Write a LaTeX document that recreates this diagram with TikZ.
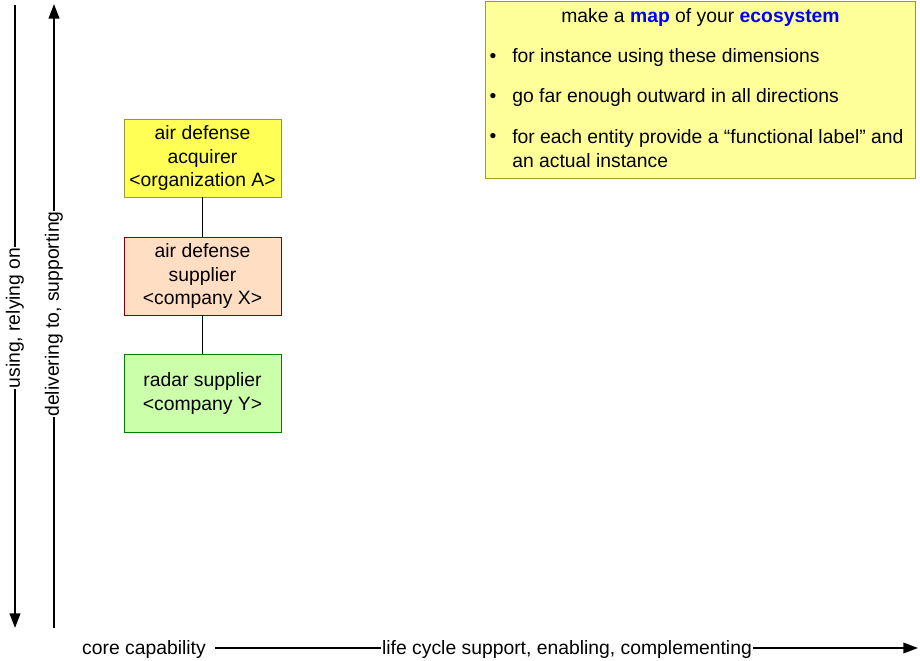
\documentclass[tikz,border=0pt]{standalone}
\usepackage{fontspec}
\setmainfont{Liberation Sans}
\usetikzlibrary{arrows.meta}

\definecolor{acqfill}{HTML}{FFFF55}
\definecolor{acqline}{HTML}{999933}
\definecolor{supfill}{HTML}{FFDEC4}
\definecolor{supline}{HTML}{800000}
\definecolor{radfill}{HTML}{CCFFAA}
\definecolor{radline}{HTML}{008000}
\definecolor{notefill}{HTML}{FFFF99}
\definecolor{noteline}{HTML}{A09A20}
\definecolor{mapblue}{HTML}{0000FF}

\begin{document}
\begin{tikzpicture}[x=0.75pt, y=-0.75pt, font=\fontsize{14.5}{17.3}\selectfont,
    entity/.style={draw, minimum width=118pt, minimum height=58.5pt, align=center, inner sep=2pt},
    axis/.style={line width=1.3pt, -{Triangle[length=11pt, width=8pt]}},
    axislabel/.style={fill=white, inner sep=0.5pt}]
    \useasboundingbox (0,0) rectangle (920,660);

    % axes
    \coordinate (u0) at (15,5);
    \coordinate (u1) at (15,628);
    \coordinate (d0) at (54,628);
    \coordinate (d1) at (54,4);
    \coordinate (h0) at (215,648);
    \coordinate (h1) at (918,648);
    \draw[axis] (u0) -- (u1);
    \draw[axis] (d0) -- (d1);
    \draw[axis, line width=1pt] (h0) -- (h1);
    \node[axislabel, rotate=90] (using) at (15,318) {using, relying on};
    \node[axislabel, rotate=90] (deliv) at (54,314) {delivering to, supporting};
    \node[axislabel] (life) at (567,649) {life cycle support, enabling, complementing};
    \node[anchor=east, inner sep=0pt] (core) at (206,649) {core capability};

    % entities
    \node[entity, fill=acqfill, draw=acqline] (acq) at (202.5,158) {air defense\\acquirer\\<organization A>};
    \node[entity, fill=supfill, draw=supline] (sup) at (202.5,276) {air defense\\supplier\\<company X>};
    \node[entity, fill=radfill, draw=radline] (rad) at (202.5,393.5) {radar supplier\\<company Y>};
    \draw (acq) -- (sup);
    \draw (sup) -- (rad);

    % note
    \node[draw=noteline, fill=notefill, minimum width=322.5pt, minimum height=132.5pt] (note) at (700.5,89.5) {};
    \node (title) at (700.5,18) {make a \textcolor{mapblue}{\textbf{map}} of your \textcolor{mapblue}{\textbf{ecosystem}}};
    \foreach \y/\t in {58/for instance using these dimensions, 98/go far enough outward in all directions, 138/for each entity provide a “functional label” and} {
        \node[inner sep=0pt] at (493,\y) {\textbullet};
        \node[anchor=west, inner sep=0pt] at (512,\y) {\t};
    }
    \node[anchor=west, inner sep=0pt] at (512,161) {an actual instance};
\end{tikzpicture}
\end{document}
